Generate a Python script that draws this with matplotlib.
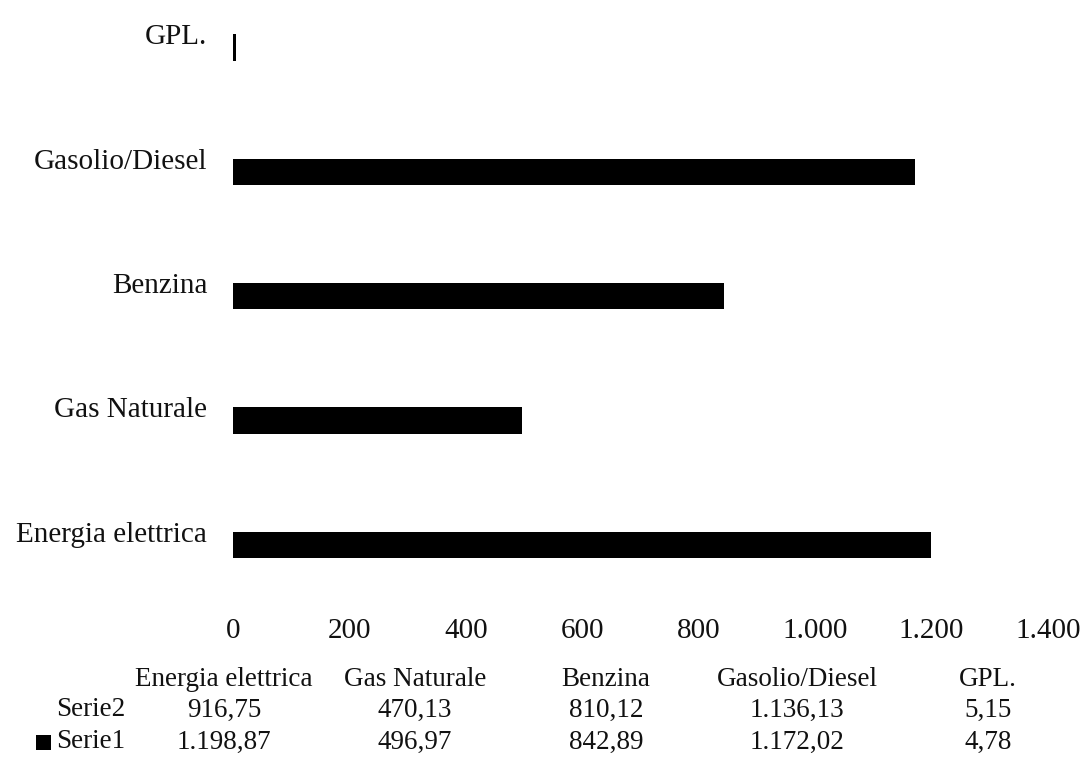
import matplotlib
matplotlib.use("Agg")
import matplotlib.pyplot as plt
from matplotlib.patches import Rectangle
import numpy as np

# ---- data ----
categories = ["Energia elettrica", "Gas Naturale", "Benzina", "Gasolio/Diesel", "GPL."]
serie1 = [1198.87, 496.97, 842.89, 1172.02, 4.78]
serie2 = [916.75, 470.13, 810.12, 1136.13, 5.15]
series_names = ["Serie1", "Serie2"]
x_ticks = [0, 200, 400, 600, 800, 1000, 1200, 1400]


def it_num(v, decimals=2):
    s = f"{v:,.{decimals}f}"
    return s.replace(",", "X").replace(".", ",").replace("X", ".")


plt.rcParams['font.family'] = ['Liberation Serif', 'DejaVu Serif']

W, H = 1081, 762
fig = plt.figure(figsize=(W / 100, H / 100), dpi=100)
fig.patch.set_facecolor("white")

ax = fig.add_axes([233 / W, 1 - 594 / H, (1048 - 233) / W, 594 / H])
y = np.arange(len(categories))
h = 0.21
ax.barh(y - h / 2, serie1, height=h, color="black", label=series_names[0])
ax.barh(y + h / 2, serie2, height=h, color="none", edgecolor="none", label=series_names[1])
ax.set_xlim(0, 1400)
ax.set_ylim(-0.5, 4.2765)
ax.set_xticks(x_ticks)
ax.set_xticklabels([it_num(t, 0) for t in x_ticks])
ax.set_yticks(y)
ax.set_yticklabels(categories)
for s in ax.spines.values():
    s.set_visible(False)
ax.tick_params(length=0, labelsize=21, colors="#111111")
ax.tick_params(axis="x", pad=17)
ax.tick_params(axis="y", pad=18.5)

# ---- data table below ----
col_x0, col_dx = 224, 191
row_y = {"header": 679, "Serie2": 710, "Serie1": 742}
fs = 19.5
for i, c in enumerate(categories):
    cx = (col_x0 + col_dx * i) / W
    fig.text(cx, 1 - row_y["header"] / H, c, ha="center", va="center",
             fontsize=fs, color="#111111")
    fig.text(cx, 1 - row_y["Serie2"] / H, it_num(serie2[i]), ha="center", va="center",
             fontsize=fs, color="#111111")
    fig.text(cx, 1 - row_y["Serie1"] / H, it_num(serie1[i]), ha="center", va="center",
             fontsize=fs, color="#111111")

fig.text(56 / W, 1 - row_y["Serie2"] / H, series_names[1], ha="left", va="center",
         fontsize=fs, color="#111111")
fig.text(56 / W, 1 - row_y["Serie1"] / H, series_names[0], ha="left", va="center",
         fontsize=fs, color="#111111")
fig.patches.append(Rectangle((36 / W, 1 - 750 / H), 15 / W, 15 / H,
                             transform=fig.transFigure, facecolor="black",
                             edgecolor="none"))

fig.savefig("out.png", dpi=100, facecolor="white")
